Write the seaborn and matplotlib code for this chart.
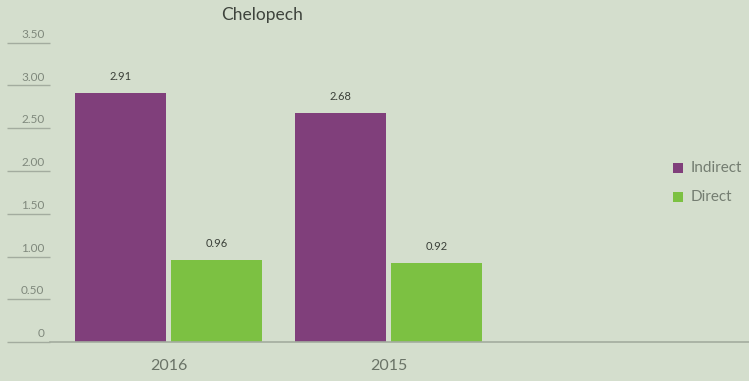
import matplotlib
matplotlib.use("Agg")
import matplotlib.pyplot as plt
import seaborn as sns
import pandas as pd

# Data
years = ["2016", "2015"]
indirect = [2.91, 2.68]
direct = [0.96, 0.92]
series_names = ["Indirect", "Direct"]
y_ticks = [0, 0.5, 1.0, 1.5, 2.0, 2.5, 3.0, 3.5]
y_tick_labels = ["0", "0.50", "1.00", "1.50", "2.00", "2.50", "3.00", "3.50"]

df = pd.DataFrame({
    "Year": years * 2,
    "Value": indirect + direct,
    "Type": [series_names[0]] * len(years) + [series_names[1]] * len(years),
})

bg = "#d4decd"
purple = "#803f7b"
green = "#7cc142"
grey_line = "#a3ac9f"
grey_text = "#747d71"

sns.set_theme(style="white")
plt.rcParams["font.family"] = ["Lato", "DejaVu Sans"]

fig = plt.figure(figsize=(7.49, 3.81), dpi=100, facecolor=bg)
W, H = 749, 381
left_px, right_px, bottom_px, top_px = 50, 749, 342, 30
px_per_unit = 85.5
ax = fig.add_axes([left_px / W, (H - bottom_px) / H,
                   (right_px - left_px) / W, (bottom_px - top_px) / H])
ax.set_facecolor(bg)

sns.barplot(data=df, x="Year", y="Value", hue="Type", order=years,
            hue_order=series_names, palette=[purple, green],
            width=0.87, gap=0.05, saturation=1, ax=ax, legend=False,
            edgecolor="none")

ax.set_xlim(-0.54, 2.64)
ax.set_ylim(0, (bottom_px - top_px) / px_per_unit)

# Value labels above bars
for container in ax.containers:
    for bar in container:
        h = bar.get_height()
        ax.annotate(f"{h:.2f}", xy=(bar.get_x() + bar.get_width() / 2, h),
                    xytext=(0, 12), textcoords="offset points",
                    ha="center", va="center", fontsize=8,
                    color="#3a3f38")

# Left scale: short rules with labels sitting above them
ax.set_yticks(y_ticks)
ax.set_yticklabels([])
ax.tick_params(axis="y", left=True, length=31, width=1.0, color=grey_line,
               direction="out")
for v, lab in zip(y_ticks, y_tick_labels):
    ax.annotate(lab, xy=(0, v), xycoords=("axes fraction", "data"),
                xytext=(-4, 6), textcoords="offset points",
                ha="right", va="center", fontsize=8.5, color="#7f887c")

# Category axis
ax.set_xlabel("")
ax.set_ylabel("")
ax.tick_params(axis="x", bottom=False, length=0, pad=12, labelsize=11.5,
               labelcolor="#6a7367")

for s in ["top", "right", "left"]:
    ax.spines[s].set_visible(False)
ax.spines["bottom"].set_color(grey_line)
ax.spines["bottom"].set_linewidth(1.2)

# Title
fig.text(262 / W, 1 - 15 / H, "Chelopech", ha="center", va="center",
         fontsize=12.5, color="#3f443d")

# Legend
for name, col, ypx in [(series_names[0], purple, 168), (series_names[1], green, 197)]:
    fig.patches.append(plt.Rectangle(((678 - 5) / W, 1 - (ypx + 5) / H), 10 / W, 10 / H,
                                     transform=fig.transFigure, facecolor=col,
                                     edgecolor="none"))
    fig.text(691 / W, 1 - ypx / H, name, ha="left", va="center",
             fontsize=11, color=grey_text)

fig.savefig("out.png", dpi=100, facecolor=bg)
